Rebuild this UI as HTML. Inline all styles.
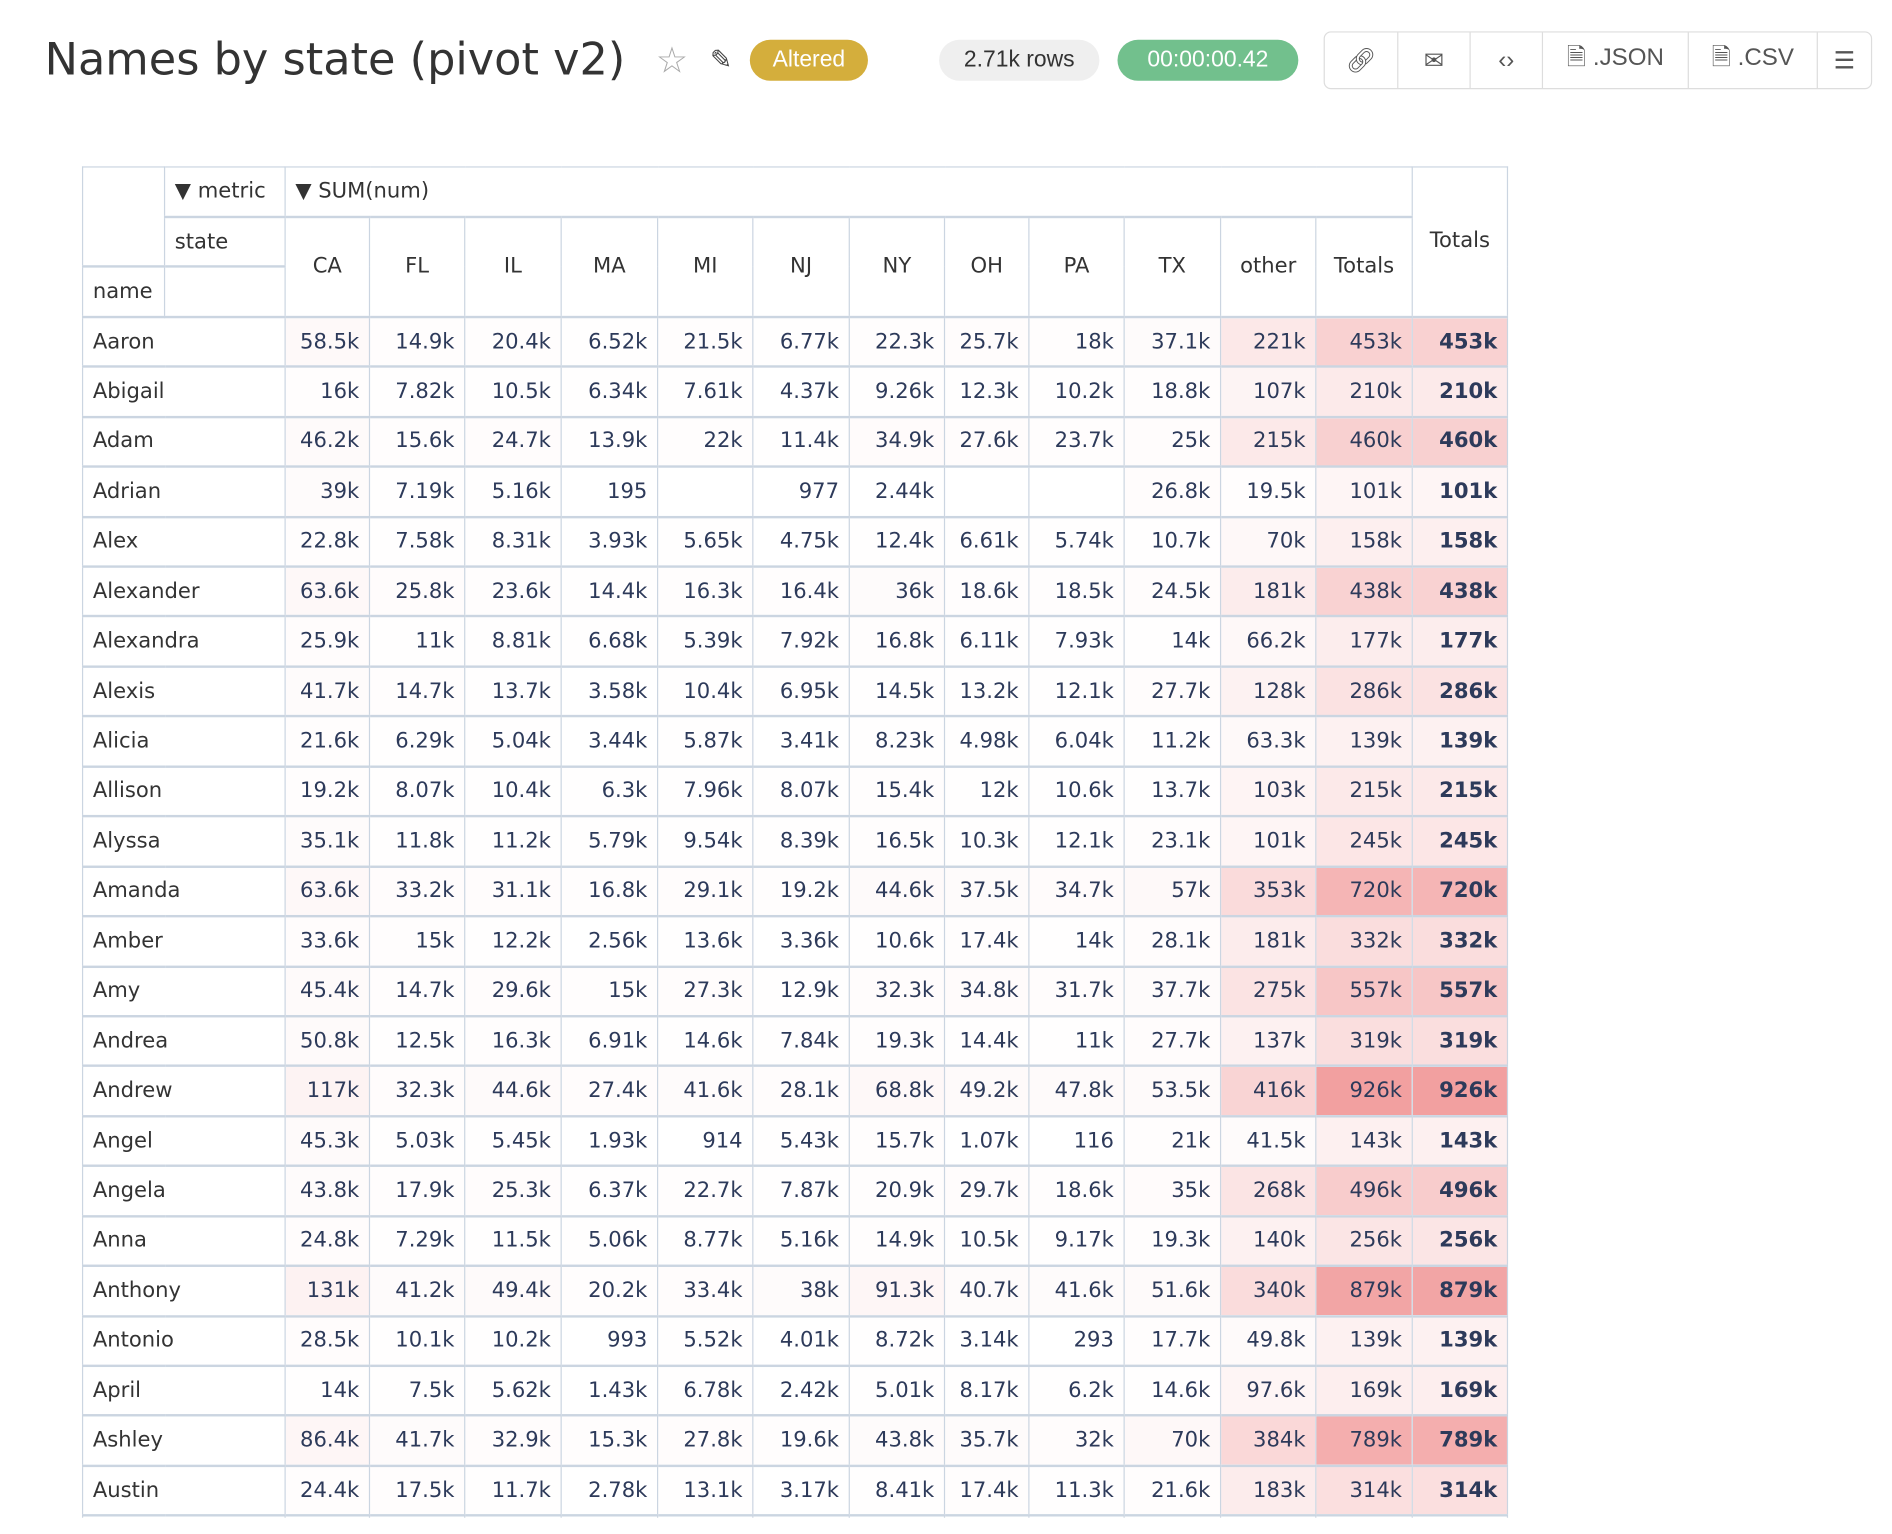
<!DOCTYPE html>
<html><head><meta charset="utf-8">
<style>
html,body{margin:0;padding:0;background:#fff;width:1892px;height:1534px;overflow:hidden}
#w{position:absolute;left:0;top:0;width:1570px;height:1259px;overflow:hidden;transform:scale(1.2055);transform-origin:0 0;font-family:"DejaVu Sans","Liberation Sans",sans-serif}
.title{position:absolute;left:37px;top:28px;font-size:37px;color:#333;white-space:nowrap;font-family:"DejaVu Sans",sans-serif}
.star{position:absolute;left:544px;top:33px;font-size:30px;color:#aaa}
.edit{position:absolute;left:589px;top:38px;font-size:22px;color:#444}
.pill{position:absolute;top:33px;height:34px;border-radius:17px;line-height:34px;text-align:center;font-size:19px;font-family:"Liberation Sans",sans-serif}
.grp{position:absolute;left:1098px;top:26px;width:455px;height:48px;border:1.5px solid #ddd;border-radius:6px;box-sizing:border-box;display:flex;font-family:"Liberation Sans",sans-serif;color:#555;font-size:20px}
.grp div{border-right:1.5px solid #ddd;display:flex;align-items:center;justify-content:center;height:100%}
.grp div:last-child{border-right:none}
table{position:absolute;left:68px;top:138px;border-collapse:collapse;table-layout:fixed;font-size:17.5px;color:#333}
td,th{border:1px solid #cbd5e1;padding:0 8px;height:41.45px;box-sizing:border-box;font-weight:normal;white-space:nowrap;overflow:hidden}
th{text-align:center}
th.l{text-align:left}
td{text-align:right;color:#2d3a5a}
td.n{text-align:left;color:#333}
td.b{font-weight:bold}
tr.hb td,tr.hb th{border-top:2.5px solid #cbd5e1}
</style></head><body><div id="w">
<div class="title">Names by state (pivot v2)</div>
<div class="star">☆</div>
<div class="edit">✎</div>
<div class="pill" style="left:622px;width:98px;background:#d4ae3c;color:#fff">Altered</div>
<div class="pill" style="left:779px;width:133px;background:#efefef;color:#333">2.71k rows</div>
<div class="pill" style="left:927px;width:150px;background:#72c08d;color:#fff">00:00:00.42</div>
<div class="grp">
<div style="width:60px">🔗︎</div><div style="width:59px">✉︎</div><div style="width:59px">‹›</div><div style="width:120px">🗎 .JSON</div><div style="width:106px">🗎 .CSV</div><div style="flex:1">☰</div>
</div>
<table id="t">
<colgroup><col style="width:68px"><col style="width:100px"><col style="width:70px"><col style="width:79px"><col style="width:80px"><col style="width:80px"><col style="width:79px"><col style="width:80px"><col style="width:79px"><col style="width:70px"><col style="width:79px"><col style="width:80px"><col style="width:79px"><col style="width:80px"><col style="width:79px"></colgroup>
<tr><th rowspan="2"></th><th class="l">▼ metric</th><th class="l" colspan="12">▼ SUM(num)</th><th rowspan="3">Totals</th></tr>
<tr class="hb"><th class="l">state</th><th rowspan="2">CA</th><th rowspan="2">FL</th><th rowspan="2">IL</th><th rowspan="2">MA</th><th rowspan="2">MI</th><th rowspan="2">NJ</th><th rowspan="2">NY</th><th rowspan="2">OH</th><th rowspan="2">PA</th><th rowspan="2">TX</th><th rowspan="2">other</th><th rowspan="2">Totals</th></tr>
<tr class="hb"><th class="l">name</th><th></th></tr>
</table>
</div>
<script>
var D=`Aaron|58.5k|14.9k|20.4k|6.52k|21.5k|6.77k|22.3k|25.7k|18k|37.1k|221k|453k
Abigail|16k|7.82k|10.5k|6.34k|7.61k|4.37k|9.26k|12.3k|10.2k|18.8k|107k|210k
Adam|46.2k|15.6k|24.7k|13.9k|22k|11.4k|34.9k|27.6k|23.7k|25k|215k|460k
Adrian|39k|7.19k|5.16k|195||977|2.44k|||26.8k|19.5k|101k
Alex|22.8k|7.58k|8.31k|3.93k|5.65k|4.75k|12.4k|6.61k|5.74k|10.7k|70k|158k
Alexander|63.6k|25.8k|23.6k|14.4k|16.3k|16.4k|36k|18.6k|18.5k|24.5k|181k|438k
Alexandra|25.9k|11k|8.81k|6.68k|5.39k|7.92k|16.8k|6.11k|7.93k|14k|66.2k|177k
Alexis|41.7k|14.7k|13.7k|3.58k|10.4k|6.95k|14.5k|13.2k|12.1k|27.7k|128k|286k
Alicia|21.6k|6.29k|5.04k|3.44k|5.87k|3.41k|8.23k|4.98k|6.04k|11.2k|63.3k|139k
Allison|19.2k|8.07k|10.4k|6.3k|7.96k|8.07k|15.4k|12k|10.6k|13.7k|103k|215k
Alyssa|35.1k|11.8k|11.2k|5.79k|9.54k|8.39k|16.5k|10.3k|12.1k|23.1k|101k|245k
Amanda|63.6k|33.2k|31.1k|16.8k|29.1k|19.2k|44.6k|37.5k|34.7k|57k|353k|720k
Amber|33.6k|15k|12.2k|2.56k|13.6k|3.36k|10.6k|17.4k|14k|28.1k|181k|332k
Amy|45.4k|14.7k|29.6k|15k|27.3k|12.9k|32.3k|34.8k|31.7k|37.7k|275k|557k
Andrea|50.8k|12.5k|16.3k|6.91k|14.6k|7.84k|19.3k|14.4k|11k|27.7k|137k|319k
Andrew|117k|32.3k|44.6k|27.4k|41.6k|28.1k|68.8k|49.2k|47.8k|53.5k|416k|926k
Angel|45.3k|5.03k|5.45k|1.93k|914|5.43k|15.7k|1.07k|116|21k|41.5k|143k
Angela|43.8k|17.9k|25.3k|6.37k|22.7k|7.87k|20.9k|29.7k|18.6k|35k|268k|496k
Anna|24.8k|7.29k|11.5k|5.06k|8.77k|5.16k|14.9k|10.5k|9.17k|19.3k|140k|256k
Anthony|131k|41.2k|49.4k|20.2k|33.4k|38k|91.3k|40.7k|41.6k|51.6k|340k|879k
Antonio|28.5k|10.1k|10.2k|993|5.52k|4.01k|8.72k|3.14k|293|17.7k|49.8k|139k
April|14k|7.5k|5.62k|1.43k|6.78k|2.42k|5.01k|8.17k|6.2k|14.6k|97.6k|169k
Ashley|86.4k|41.7k|32.9k|15.3k|27.8k|19.6k|43.8k|35.7k|32k|70k|384k|789k
Austin|24.4k|17.5k|11.7k|2.78k|13.1k|3.17k|8.41k|17.4k|11.3k|21.6k|183k|314k
|||||||||||||`;
function val(s){if(!s)return 0;return s.endsWith('k')?parseFloat(s)*1000:parseFloat(s);}
function bg(v){var a=Math.min(1,v/926000)*0.6;var g=Math.round(255-158*a),r=Math.round(255-22*a);return 'rgb('+r+','+g+','+g+')';}
var t=document.getElementById('t'),h='';
D.split('\n').forEach(function(l){var c=l.split('|');h+='<tr class="hb"><td class="n" colspan="2">'+c[0]+'</td>';
for(var i=1;i<=12;i++){var s=c[i]||'';h+='<td style="background:'+bg(val(s))+'">'+s+'</td>';}
var s=c[12]||'';h+='<td class="b" style="background:'+bg(val(s))+'">'+s+'</td></tr>';});
t.insertAdjacentHTML('beforeend',h);
</script>
</body></html>
